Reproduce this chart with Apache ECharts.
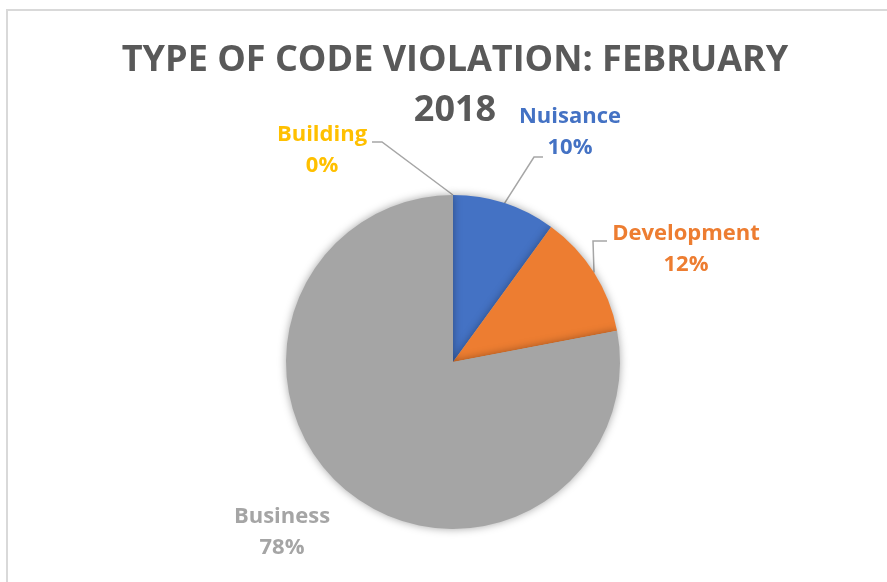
<!DOCTYPE html>
<html>
<head>
<meta charset="utf-8">
<script src="https://cdn.jsdelivr.net/npm/echarts@6/dist/echarts.min.js"></script>
<style>
  html, body { margin: 0; padding: 0; background: #fff; }
  #main { width: 887px; height: 582px; }
</style>
</head>
<body>
<div id="main"></div>
<script>
var categories = ['Nuisance', 'Development', 'Business', 'Building'];
var values = [10, 12, 78, 0];
var colors = ['#4472C4', '#ED7D31', '#A5A5A5', '#FFC000'];
// where excel put each label (centre of the text block)
var labelSpots = [[570, 132], [686, 249], [282, 532], [322, 150]];
// elbow + end of the leader lines (null = no line)
var leaderBends = [[[534, 157], [543, 157]], [[593, 241], [607, 241]], null, [[382, 142], [372, 142]]];

var chart = echarts.init(document.getElementById('main'));

var pieData = categories.map(function (name, i) {
    return {
        name: name,
        value: values[i],
        itemStyle: { color: colors[i] },
        label: { color: colors[i] },
        labelLine: { show: leaderBends[i] !== null }
    };
});

var option = {
    animation: false,
    backgroundColor: '#fff',
    graphic: [{
        type: 'rect',
        shape: { x: 7, y: 10, width: 900, height: 600 },
        style: { fill: 'none', stroke: '#d9d9d9', lineWidth: 2 },
        silent: true
    }, {
        type: 'text',
        x: 455,
        y: 36,
        silent: true,
        style: {
            text: 'TYPE OF CODE VIOLATION: FEBRUARY\n2018',
            textAlign: 'center',
            fontFamily: 'Open Sans',
            fontWeight: 'bold',
            fontSize: 36,
            lineHeight: 50,
            fill: '#595959'
        }
    }],
    series: [{
        type: 'pie',
        center: [453, 362],
        radius: 167,
        startAngle: 90,
        clockwise: true,
        percentPrecision: 0,
        data: pieData,
        itemStyle: {
            borderWidth: 0,
            shadowBlur: 8,
            shadowColor: 'rgba(0,0,0,0.35)'
        },
        emphasis: { disabled: true },
        label: {
            show: true,
            position: 'outside',
            formatter: '{b}\n{d}%',
            fontFamily: 'Open Sans',
            fontWeight: 'bold',
            fontSize: 22,
            lineHeight: 31,
            align: 'center'
        },
        labelLine: {
            show: true,
            length: 20,
            length2: 10,
            lineStyle: { color: '#a6a6a6', width: 1.5 }
        },
        labelLayout: function (params) {
            var i = params.dataIndex;
            var p = labelSpots[i];
            var out = { x: p[0], y: p[1], align: 'center', verticalAlign: 'middle' };
            var bend = leaderBends[i];
            if (bend && params.labelLinePoints) {
                out.labelLinePoints = [params.labelLinePoints[0], bend[0], bend[1]];
            }
            return out;
        }
    }]
};

chart.setOption(option);
window.onresize = chart.resize;
</script>
</body>
</html>
